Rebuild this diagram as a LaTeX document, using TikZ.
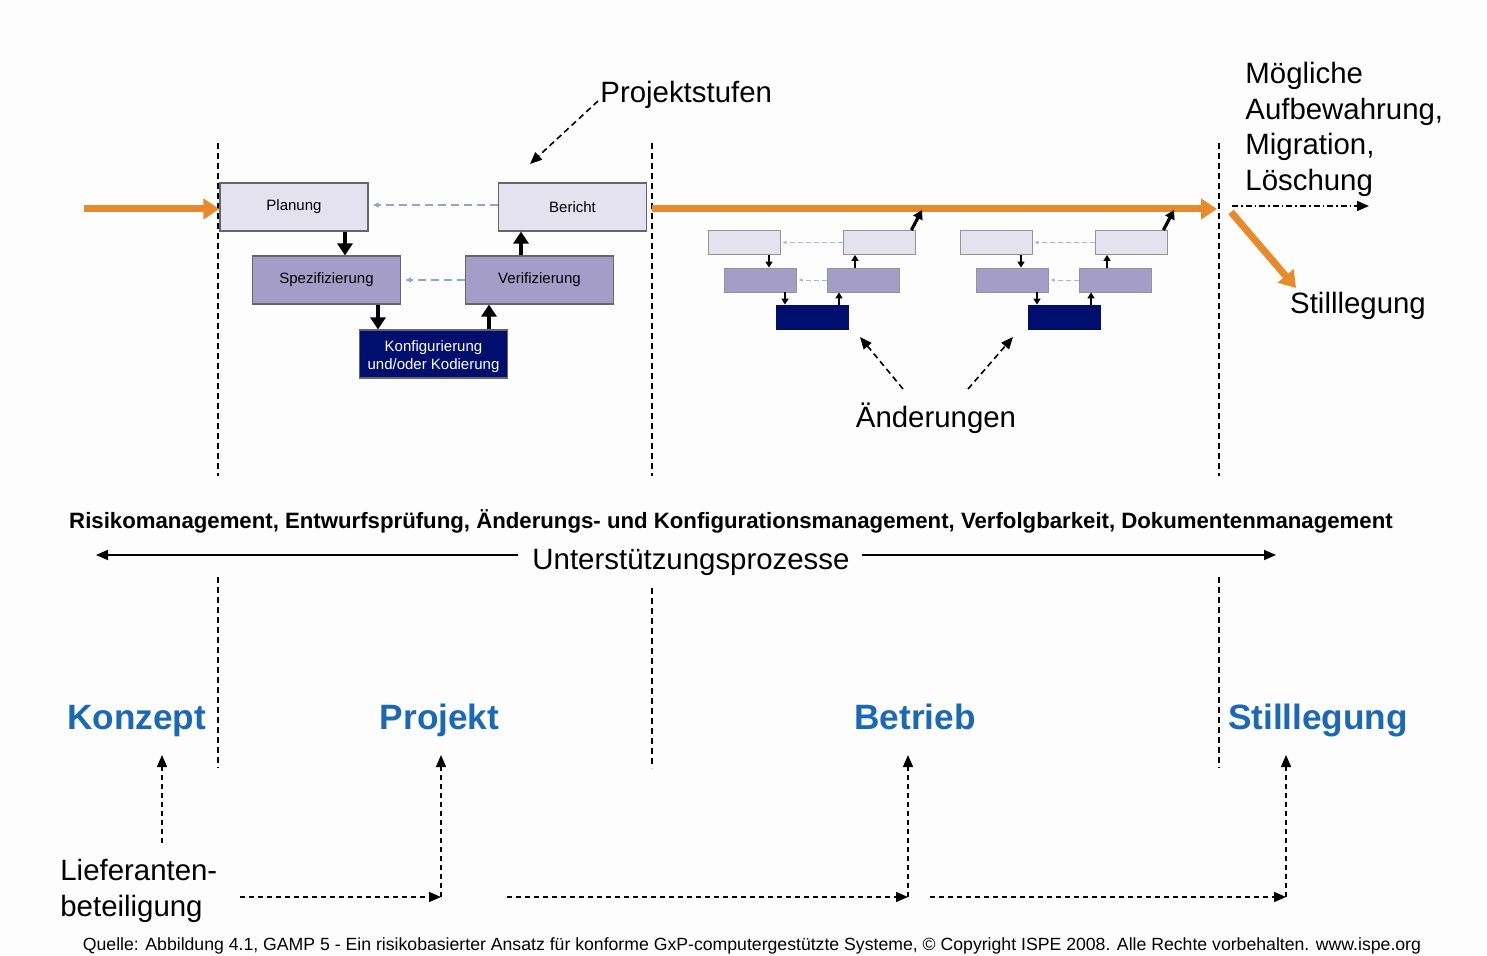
\documentclass[tikz,border=0pt]{standalone}
\usepackage{fontspec}
\setmainfont{Liberation Sans}
\usetikzlibrary{arrows.meta,calc}
\definecolor{bg}{HTML}{FDFDFD}
\definecolor{lightbox}{HTML}{E4E2EE}
\definecolor{midbox}{HTML}{A39DC8}
\definecolor{darkbox}{HTML}{000F6E}
\definecolor{orangeln}{HTML}{E8892B}
\definecolor{phaseblue}{HTML}{1B69B4}
\definecolor{fbarrow}{HTML}{8FA6CC}
\definecolor{boxedge}{HTML}{666666}
\tikzset{
  bigbox/.style={draw=boxedge, line width=0.6pt, minimum width=74pt, minimum height=24pt, inner sep=0pt, font=\fontsize{7.5}{9}\selectfont, align=center},
  smallbox/.style={draw=boxedge!70, line width=0.4pt, minimum width=36pt, minimum height=12pt, inner sep=0pt},
  blk/.style={line width=2.2pt, -{Triangle[length=6pt,width=7.5pt]}},
  blksmall/.style={line width=0.9pt, -{Triangle[length=3pt,width=3.5pt]}},
  fb/.style={draw=fbarrow, line width=0.6pt, dash pattern=on 4pt off 2.5pt, -{Latex[length=3pt,width=3pt]}},
  fbsmall/.style={draw=fbarrow!80, line width=0.4pt, dash pattern=on 2.5pt off 1.5pt, -{Latex[length=2pt,width=2pt]}},
  orangearr/.style={draw=orangeln, line width=3.5pt, -{Triangle[length=8pt,width=10pt]}},
  vdash/.style={line width=0.7pt, dash pattern=on 3pt off 2pt},
  pointer/.style={line width=0.8pt, dash pattern=on 3pt off 2pt, -{Triangle[length=6pt,width=5pt]}},
  btmarr/.style={line width=0.7pt, dash pattern=on 2.5pt off 2pt, -{Triangle[length=6pt,width=5pt]}},
  bigtext/.style={font=\fontsize{14.7}{17.75}\selectfont, inner sep=0pt},
  phase/.style={font=\fontsize{17.6}{20}\selectfont\bfseries, text=phaseblue, inner sep=0pt, anchor=base},
}
\begin{document}
\begin{tikzpicture}[x=0.5pt,y=-0.5pt]
\fill[bg] (0,0) rectangle (1487,956);
\useasboundingbox (0,0) rectangle (1487,956);

% vertical dashed lines
\coordinate (v1a) at (218,143); \coordinate (v1b) at (218,476);
\coordinate (v1c) at (218,577); \coordinate (v1d) at (218,768);
\coordinate (v2a) at (652,143); \coordinate (v2b) at (652,476);
\coordinate (v2c) at (652,588); \coordinate (v2d) at (652,768);
\coordinate (v3a) at (1219,143); \coordinate (v3b) at (1219,476);
\coordinate (v3c) at (1219,577); \coordinate (v3d) at (1219,768);
\draw[vdash] (v1a) -- (v1b); \draw[vdash] (v1c) -- (v1d);
\draw[vdash] (v2a) -- (v2b); \draw[vdash] (v2c) -- (v2d);
\draw[vdash] (v3a) -- (v3b); \draw[vdash] (v3c) -- (v3d);

% project boxes
\node[bigbox, fill=lightbox] (plan) at (294,207) {Planung};
\node[bigbox, fill=lightbox] (ber) at (572.5,207) {Bericht};
\node[bigbox, fill=midbox] (spez) at (326.5,280) {Spezifizierung};
\node[bigbox, fill=midbox] (verif) at (539.5,280) {Verifizierung};
\node[bigbox, fill=darkbox] (konf) at (433.5,354) {};
\node[font=\fontsize{7.5}{9}\selectfont, align=center, text=white, inner sep=0pt] (konftxt) at ([yshift=-1.5pt]konf.center) {Konfigurierung\\und/oder Kodierung};

\draw[blk] ([xshift=25.5pt]plan.south) -- ([xshift=9.25pt]spez.north);
\draw[blk] ([xshift=25.75pt]spez.south) -- ([xshift=-27.75pt]konf.north);
\draw[blk] ([xshift=27.75pt]konf.north) -- ([xshift=-25.25pt]verif.south);
\draw[blk] ([xshift=-9.25pt]verif.north) -- ([xshift=-25.75pt]ber.south);
\draw[fb] ([yshift=1pt]ber.west) -- ([xshift=2pt,yshift=1pt]plan.east);
\draw[fb] (verif.west) -- ([xshift=2pt]spez.east);

% orange flow
\coordinate (ostart) at (84,209);
\coordinate (oend) at (1217,209);
\coordinate (dstart) at (1231,212);
\coordinate (dend) at (1296,288);
\coordinate (mstart) at (1232,206);
\coordinate (mend) at (1369,206);
\draw[orangearr] (ostart) -- (ostart -| plan.west);
\draw[orangearr] (oend -| ber.east) ++(2.5pt,0) -- (oend);
\draw[orangearr] (dstart) -- (dend);
\draw[line width=0.7pt, dash pattern=on 3pt off 1.5pt on 0.8pt off 1.5pt, -{Triangle[length=6pt,width=5pt]}] (mstart) -- (mend);

% change cycles
\foreach \g/\dx in {a/0,b/252}{
  \node[smallbox, fill=lightbox] (\g1) at (744+\dx,242.5) {};
  \node[smallbox, fill=lightbox] (\g2) at (879+\dx,242.5) {};
  \node[smallbox, fill=midbox] (\g3) at (760+\dx,280) {};
  \node[smallbox, fill=midbox] (\g4) at (863.5+\dx,280) {};
  \node[smallbox, fill=darkbox, draw=darkbox] (\g5) at (812+\dx,317) {};
  \coordinate (\g t) at (922+\dx,210);
  \draw[blksmall] ([xshift=12.5pt]\g1.south) -- ([xshift=4.5pt]\g3.north);
  \draw[blksmall] ([xshift=12.5pt]\g3.south) -- ([xshift=-13.5pt]\g5.north);
  \draw[blksmall] ([xshift=13.5pt]\g5.north) -- ([xshift=-12.25pt]\g4.south);
  \draw[blksmall] ([xshift=-4.25pt]\g4.north) -- ([xshift=-12pt]\g2.south);
  \draw[fbsmall] (\g2.west) -- ([xshift=1pt]\g1.east);
  \draw[fbsmall] (\g4.west) -- ([xshift=1pt]\g3.east);
  \draw[line width=1.6pt, -{Triangle[length=4.5pt,width=5pt]}] ([xshift=-2pt]\g2.north east) -- (\g t);
}

% labels top
\node[bigtext, anchor=west] (pst) at (600,95) {Projektstufen};
\coordinate (psttip) at (530,164);
\draw[pointer] ([xshift=-1pt,yshift=-3pt]pst.west) -- (psttip);

\node[bigtext, anchor=north west, align=left] (moeg) at (1245,62) {Mögliche\\Aufbewahrung,\\Migration,\\Löschung};
\node[bigtext] (still) at (1358,306) {Stilllegung};

\node[bigtext] (aend) at (936,418) {Änderungen};
\coordinate (at1) at (860,337);
\coordinate (at2) at (1013,337);
\coordinate (af1) at (903,389);
\coordinate (af2) at (968,389);
\draw[pointer] (af1) -- (at1);
\draw[pointer] (af2) -- (at2);

% support processes
\node[font=\fontsize{11.1}{13}\selectfont\bfseries, inner sep=0pt] (risk) at (731,521) {Risikomanagement, Entwurfsprüfung, Änderungs- und Konfigurationsmanagement, Verfolgbarkeit, Dokumentenmanagement};
\node[bigtext] (usp) at (691,562) {Unterstützungsprozesse};
\coordinate (ul) at (96,555);
\coordinate (ur) at (1276,555);
\draw[line width=0.8pt, -{Triangle[length=6pt,width=5pt]}] (ul -| usp.west) ++(-7pt,0) -- (ul);
\draw[line width=0.8pt, -{Triangle[length=6pt,width=5pt]}] (ur -| usp.east) ++(6pt,0) -- (ur);

% phases
\node[phase] (konz) at (136.5,729) {Konzept};
\node[phase] (proj) at (439.5,729) {Projekt};
\node[phase] (betr) at (915,729) {Betrieb};
\node[phase] (stil) at (1318,729) {Stilllegung};

% supplier involvement
\node[bigtext, anchor=north west, align=left] (lief) at (60,859) {Lieferanten-\\beteiligung};
\coordinate (l0) at (162,843);
\coordinate (h1s) at (240,897); \coordinate (c1) at (441,897);
\coordinate (h2s) at (507,897); \coordinate (c2) at (908,897);
\coordinate (h3s) at (930,897); \coordinate (c3) at (1286,897);
\coordinate (t0) at (162,755); \coordinate (t1) at (441,755);
\coordinate (t2) at (908,755); \coordinate (t3) at (1286,755);
\draw[btmarr] (l0) -- (t0);
\draw[btmarr] (h1s) -- (c1);
\draw[btmarr] (h2s) -- (c2);
\draw[btmarr] (h3s) -- (c3);
\draw[btmarr] (c1) -- (t1);
\draw[btmarr] (c2) -- (t2);
\draw[btmarr] (c3) -- (t3);

% footer
\node[font=\fontsize{8.83}{10}\selectfont, inner sep=0pt] (src) at (752,946) {Quelle: Abbildung 4.1, GAMP 5 - Ein risikobasierter Ansatz für konforme GxP-computergestützte Systeme, © Copyright ISPE 2008. Alle Rechte vorbehalten. www.ispe.org};
\end{tikzpicture}
\end{document}
